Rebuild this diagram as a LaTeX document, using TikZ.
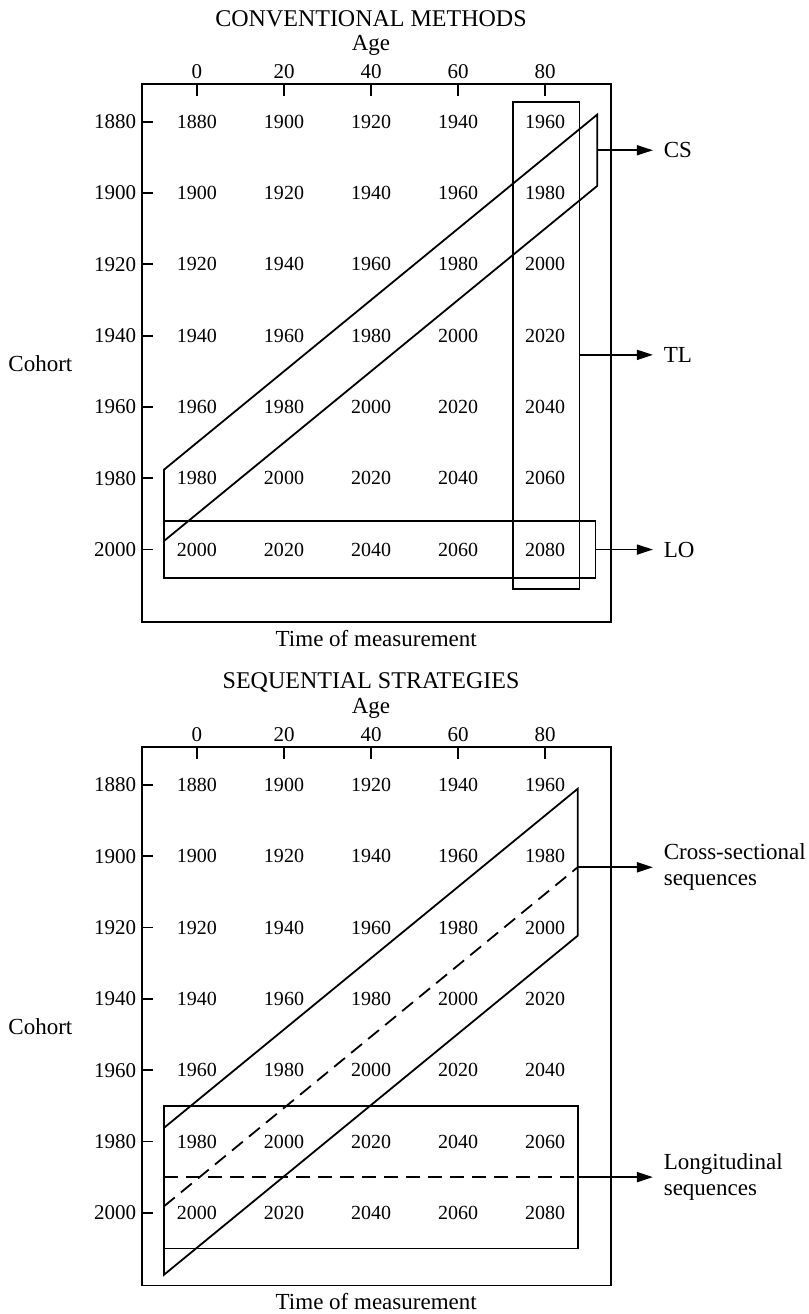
\documentclass[tikz,border=0pt]{standalone}
\usepackage{fontspec}
\setmainfont{Liberation Serif}
\usetikzlibrary{arrows.meta}

\begin{document}
\begin{tikzpicture}[x=43.5pt, y=35.65pt, line width=0.9pt,
    cell/.style={font=\fontsize{10}{12}\selectfont},
    axlab/.style={font=\fontsize{10.5}{12}\selectfont},
    heading/.style={font=\fontsize{12}{14}\selectfont},
    caption/.style={font=\fontsize{11.5}{13}\selectfont},
    sidelab/.style={font=\fontsize{11.5}{13}\selectfont, anchor=west, align=left, inner xsep=5pt},
    arr/.style={-{Triangle[length=8pt,width=5pt]}},
    dsh/.style={dash pattern=on 7pt off 4pt}]
  \useasboundingbox (-2.264,1.707) rectangle (7.023,-16.72);

  \foreach \k/\oy/\ttl in {1/0/CONVENTIONAL METHODS, 2/-9.3/SEQUENTIAL STRATEGIES}{
    \begin{scope}[shift={(0,\oy)}]
      \node[heading] (ttl\k) at (2,1.44) {\ttl};
      \node[caption] (age\k) at (2,1.07) {Age};
      \node[caption] (coh\k) at (-1.8,-3.39) {Cohort};
      \node[caption] (tom\k) at (2.06,-7.25) {Time of measurement};
      \draw (-0.635,0.53) rectangle (4.755,-7.02);
      \foreach \c/\a in {0/0, 1/20, 2/40, 3/60, 4/80}{
        \node[axlab] (a\k-\c) at (\c,0.70) {\a};
        \draw (\c,0.53) -- ++(0,-0.17);
      }
      \foreach \r in {0,...,6}{
        \pgfmathtruncatemacro{\yr}{1880+20*\r}
        \node[axlab, anchor=east, inner sep=0pt] (r\k-\r) at (-0.69,-\r) {\yr};
        \draw (-0.635,-\r) -- ++(0.13,0);
        \foreach \c in {0,...,4}{
          \pgfmathtruncatemacro{\v}{1880+20*(\r+\c)}
          \node[cell] (c\k-\r-\c) at (\c,-\r) {\v};
        }
      }
    \end{scope}
  }

  % conventional methods
  \draw (3.63,0.28) rectangle (4.395,-6.55);
  \draw (-0.38,-4.88) -- (-0.38,-5.88) -- (4.6,-0.9) -- (4.6,0.1) -- cycle;
  \draw (-0.38,-5.6) rectangle (4.58,-6.4);
  \coordinate (csout) at (4.6,-0.4);
  \coordinate (tlout) at (4.395,-3.27);
  \coordinate (loout) at (4.58,-6);
  \node[sidelab] (cs) at (5.24,-0.4) {CS};
  \node[sidelab] (tl) at (5.24,-3.27) {TL};
  \node[sidelab] (lo) at (5.24,-6) {LO};
  \draw[arr] (csout) -- (cs);
  \draw[arr] (tlout) -- (tl);
  \draw[arr] (loout) -- (lo);

  % sequential strategies
  \begin{scope}[shift={(0,-9.3)}]
    \draw (-0.38,-4.5) rectangle (4.375,-6.5);
    \draw (-0.38,-4.81) -- (-0.38,-6.87) -- (4.375,-2.115) -- (4.375,-0.055) -- cycle;
    \draw[dsh] (-0.38,-5.91) -- (4.375,-1.155);
    \draw[dsh] (-0.38,-5.5) -- (4.375,-5.5);
    \coordinate (xsout) at (4.375,-1.155);
    \coordinate (lsout) at (4.375,-5.5);
    \node[sidelab] (xs) at (5.24,-1.155) {Cross-sectional\\sequences};
    \node[sidelab] (ls) at (5.24,-5.5) {Longitudinal\\sequences};
    \draw[arr] (xsout) -- (xs);
    \draw[arr] (lsout) -- (ls);
  \end{scope}
\end{tikzpicture}
\end{document}
